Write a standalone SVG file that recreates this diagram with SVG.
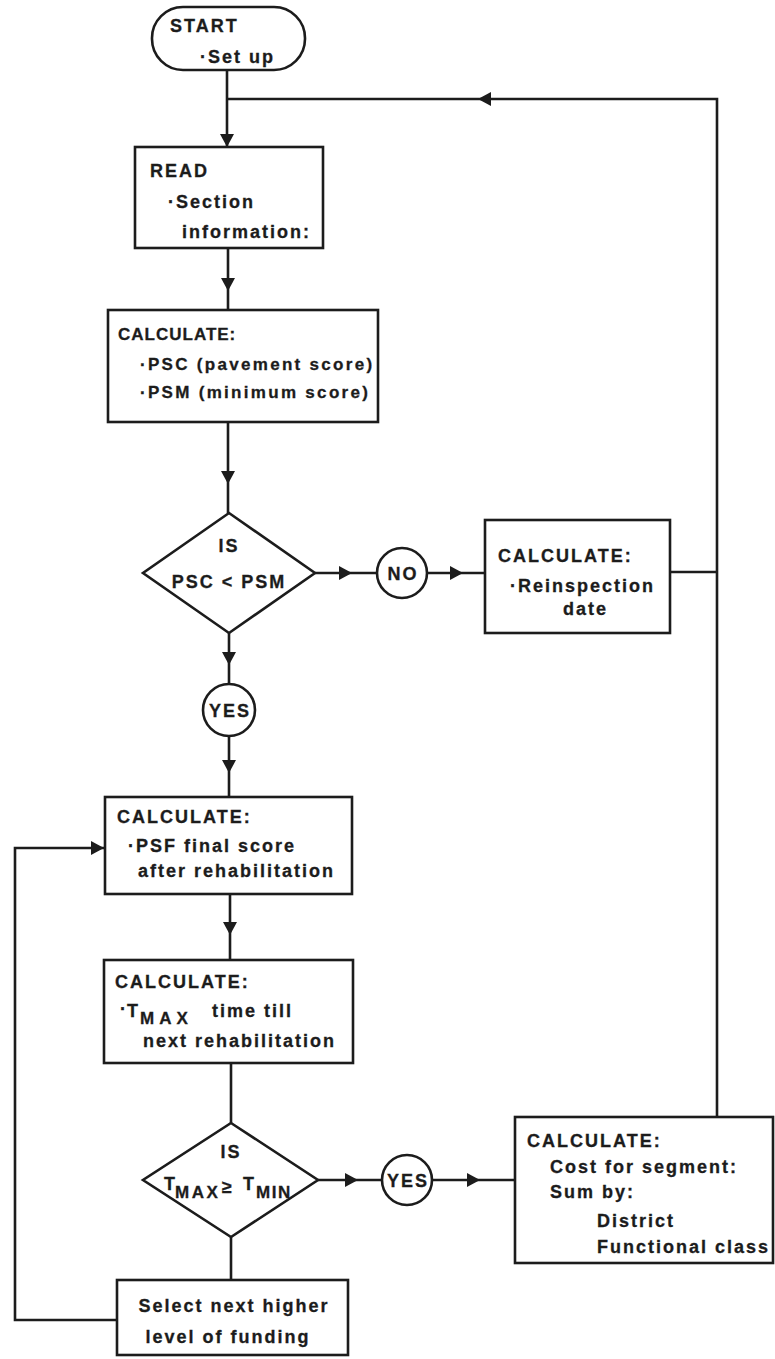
<svg xmlns="http://www.w3.org/2000/svg" width="775" height="1359" viewBox="0 0 775 1359">
<defs>
<style>
.box{fill:#fff;stroke:#1c1c1c;stroke-width:2.6}
.conn{fill:none;stroke:#1c1c1c;stroke-width:2.6}
.ah{fill:#1c1c1c}
text{font-family:"Liberation Sans",Arial,sans-serif;font-weight:bold;font-size:18px;letter-spacing:2px;fill:#1c1c1c;stroke:#1c1c1c;stroke-width:0.3}
.sm{font-size:17px}
.sub{font-size:17px;letter-spacing:5px}
.one{letter-spacing:0}
.mid{text-anchor:middle}
</style>
<path id="ah" d="M0,0 L-13,-7 L-13,7 Z"/>
</defs>
<rect width="775" height="1359" fill="#fff"/>

<g id="connectors">
  <path class="conn" d="M227,70 V147"/>
  <path class="conn" d="M717,1117 V99 H227"/>
  <path class="conn" d="M670,572 H717"/>
  <path class="conn" d="M228,248 V310"/>
  <path class="conn" d="M228,422 V513"/>
  <path class="conn" d="M315,573 H377"/>
  <path class="conn" d="M427,573 H485"/>
  <path class="conn" d="M229,633 V684"/>
  <path class="conn" d="M229,736 V797"/>
  <path class="conn" d="M230,894 V960"/>
  <path class="conn" d="M231,1063 V1123"/>
  <path class="conn" d="M318,1180 H382"/>
  <path class="conn" d="M432,1180 H515"/>
  <path class="conn" d="M231,1237 V1280"/>
  <path class="conn" d="M117,1320 H15 V848 H105"/>
  <g class="ah">
    <use href="#ah" transform="translate(227,147) rotate(90)"/>
    <use href="#ah" transform="translate(478,99) rotate(180)"/>
    <use href="#ah" transform="translate(228,291) rotate(90)"/>
    <use href="#ah" transform="translate(228,484) rotate(90)"/>
    <use href="#ah" transform="translate(352,573)"/>
    <use href="#ah" transform="translate(463,573)"/>
    <use href="#ah" transform="translate(229,665) rotate(90)"/>
    <use href="#ah" transform="translate(229,773) rotate(90)"/>
    <use href="#ah" transform="translate(230,935) rotate(90)"/>
    <use href="#ah" transform="translate(358,1180)"/>
    <use href="#ah" transform="translate(480,1180)"/>
    <use href="#ah" transform="translate(104,848)"/>
  </g>
</g>

<g id="start">
  <rect class="box" x="152" y="7" width="153" height="63" rx="31"/>
  <text x="170" y="32">START</text>
  <text x="200" y="63">·Set up</text>
</g>

<g id="read">
  <rect class="box" x="135" y="147" width="188" height="101"/>
  <text x="150" y="177">READ</text>
  <text x="168" y="208">·Section</text>
  <text x="182" y="238">information:</text>
</g>

<g id="calc-psc">
  <rect class="box" x="108" y="310" width="270" height="112"/>
  <text class="sm" x="118" y="340" style="letter-spacing:1px">CALCULATE:</text>
  <text class="sm" x="140" y="370" style="letter-spacing:2.3px">·PSC (pavement score)</text>
  <text class="sm" x="140" y="398" style="letter-spacing:2.3px">·PSM (minimum score)</text>
</g>

<g id="decision-psc">
  <polygon class="box" points="229,513 315,573 229,633 143,573"/>
  <text class="mid" x="229" y="552">IS</text>
  <text class="mid" x="229" y="588">PSC &lt; PSM</text>
</g>

<g id="no">
  <circle class="box" cx="402" cy="573" r="25"/>
  <text class="mid" x="403" y="580">NO</text>
</g>

<g id="calc-reinspection">
  <rect class="box" x="485" y="520" width="185" height="113"/>
  <text x="498" y="562">CALCULATE:</text>
  <text x="510" y="592">·Reinspection</text>
  <text x="563" y="615">date</text>
</g>

<g id="yes1">
  <circle class="box" cx="229" cy="710" r="26"/>
  <text class="mid" x="230" y="717">YES</text>
</g>

<g id="calc-psf">
  <rect class="box" x="105" y="797" width="247" height="97"/>
  <text x="117" y="823">CALCULATE:</text>
  <text x="128" y="852">·PSF final score</text>
  <text x="138" y="877">after rehabilitation</text>
</g>

<g id="calc-tmax">
  <rect class="box" x="104" y="960" width="249" height="103"/>
  <text x="115" y="988">CALCULATE:</text>
  <text class="one" x="120" y="1015">·</text>
  <text class="one" x="127" y="1017">T</text>
  <text class="sub" x="140" y="1024">MAX</text>
  <text x="212" y="1017">time till</text>
  <text x="143" y="1047">next rehabilitation</text>
</g>

<g id="decision-tmax">
  <polygon class="box" points="231,1123 318,1180 231,1237 143,1180"/>
  <text class="mid" x="231" y="1158">IS</text>
  <text class="one" x="164" y="1190">T</text>
  <text class="sub" x="175" y="1198" style="letter-spacing:2.5px">MAX</text>
  <text class="one" x="222" y="1193">≥</text>
  <text class="one" x="243" y="1190">T</text>
  <text class="sub" x="256" y="1198" style="letter-spacing:1.5px">MIN</text>
</g>

<g id="yes2">
  <circle class="box" cx="407" cy="1180" r="25"/>
  <text class="mid" x="408" y="1187">YES</text>
</g>

<g id="calc-cost">
  <rect class="box" x="515" y="1117" width="258" height="146"/>
  <text x="527" y="1147">CALCULATE:</text>
  <text x="550" y="1173">Cost for segment:</text>
  <text x="550" y="1198">Sum by:</text>
  <text x="597" y="1227">District</text>
  <text x="597" y="1253">Functional class</text>
</g>

<g id="select-funding">
  <rect class="box" x="117" y="1280" width="231" height="75"/>
  <text class="mid" x="234" y="1312">Select next higher</text>
  <text class="mid" x="228" y="1343">level of funding</text>
</g>
</svg>
